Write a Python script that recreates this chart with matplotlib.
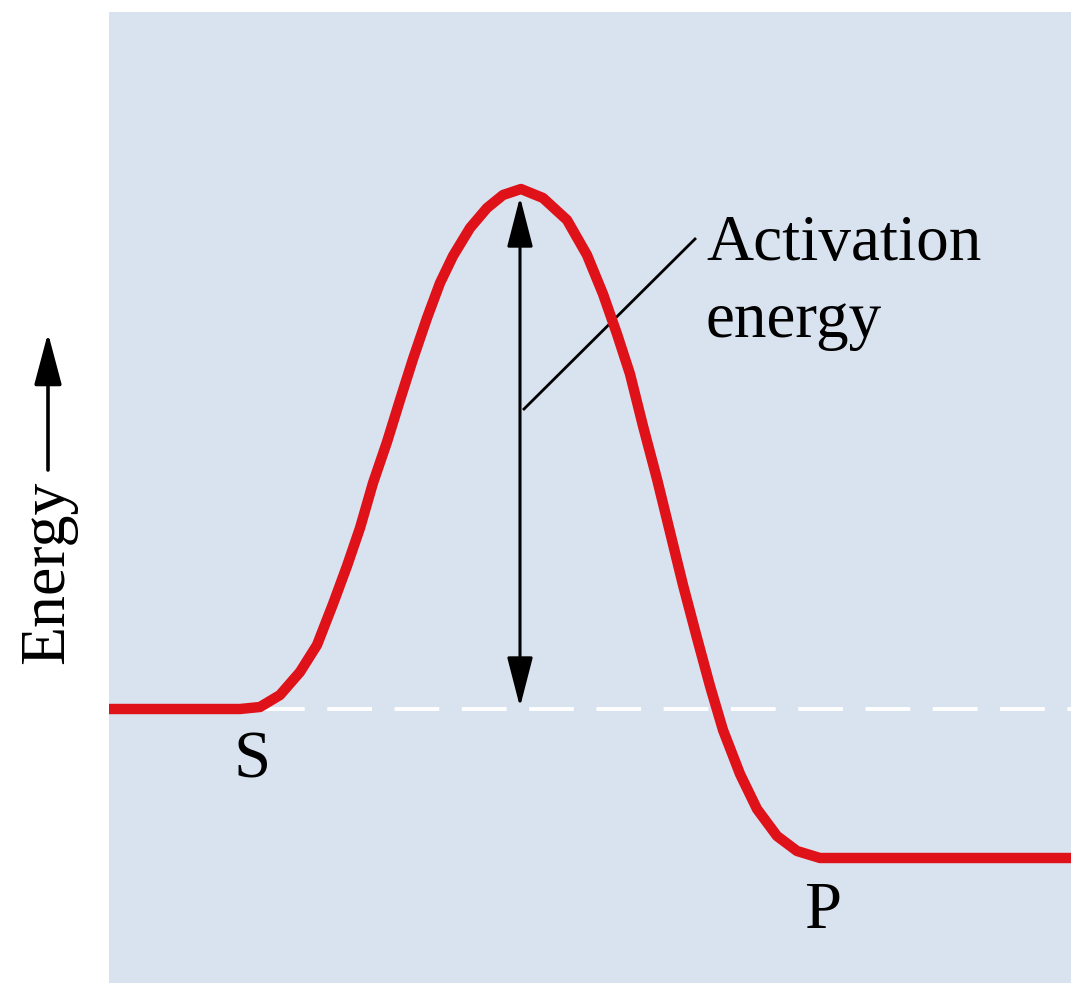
import matplotlib.pyplot as plt

# reaction curve (x = reaction progress, y = energy)
progress = [0, 131, 151, 171, 191, 208, 224, 238, 251, 264, 278, 291, 304, 318, 331,
            344, 361, 378, 394, 412, 434, 458, 478, 494, 508, 521, 534, 548, 561,
            574, 588, 601, 614, 631, 648, 668, 688, 711, 962]
energy = [274, 274, 276, 288, 311, 338, 379, 417, 455, 500, 541, 583, 624, 665, 700,
          727, 755, 775, 788, 794, 785, 763, 728, 689, 649, 609, 557, 504, 451,
          398, 345, 297, 253, 209, 174, 147, 132, 125, 125]

substrate_level = 274
peak_top = 786          # tip of the activation arrow
peak_x = 411
leader = [(415, 574), (586, 744)]   # line from arrow to label

serif = ['Liberation Serif', 'DejaVu Serif']

fig = plt.figure(figsize=(10.71, 9.83), dpi=100)
ax = fig.add_axes([109 / 1071, 0, 962 / 1071, 971 / 983])
ax.set_facecolor('#D9E3EF')
ax.set_xlim(0, 962)
ax.set_ylim(0, 971)
ax.set_xticks([])
ax.set_yticks([])
for s in ax.spines.values():
    s.set_visible(False)

# white dashed line at the substrate level
ax.plot([151, 962], [substrate_level, substrate_level], color='white', lw=2.8,
        ls=(0, (11.5, 5.8)), zorder=2)

# activation energy double arrow
ax.annotate('', xy=(peak_x, peak_top), xytext=(peak_x, substrate_level + 2),
            arrowprops=dict(arrowstyle='<|-|>,head_length=31,head_width=8',
                            mutation_scale=1, lw=2.2, color='black',
                            shrinkA=0, shrinkB=0), zorder=3)
ax.plot([p[0] for p in leader], [p[1] for p in leader], color='black', lw=2.0, zorder=3)

# the energy curve
ax.plot(progress, energy, color='#DF1219', lw=7.5, solid_joinstyle='round',
        solid_capstyle='butt', zorder=4)

ax.text(597, 723, 'Activation', family=serif, fontsize=47, ha='left', va='baseline')
ax.text(597, 646, 'energy', family=serif, fontsize=47, ha='left', va='baseline')
ax.text(143, 205, 'S', family=serif, fontsize=48, ha='center', va='baseline')
ax.text(714, 55, 'P', family=serif, fontsize=48, ha='center', va='baseline')

# energy axis label with arrow, left of the panel
ax.text(-60.5, 411, 'Energy', family=serif, fontsize=46, rotation=90,
        ha='center', va='center', clip_on=False)
ax.annotate('', xy=(-61, 650), xytext=(-61, 513), annotation_clip=False,
            arrowprops=dict(arrowstyle='-|>,head_length=32,head_width=8.5',
                            mutation_scale=1, lw=2.6, color='black',
                            shrinkA=0, shrinkB=0))

plt.savefig('out.png', dpi=100)
